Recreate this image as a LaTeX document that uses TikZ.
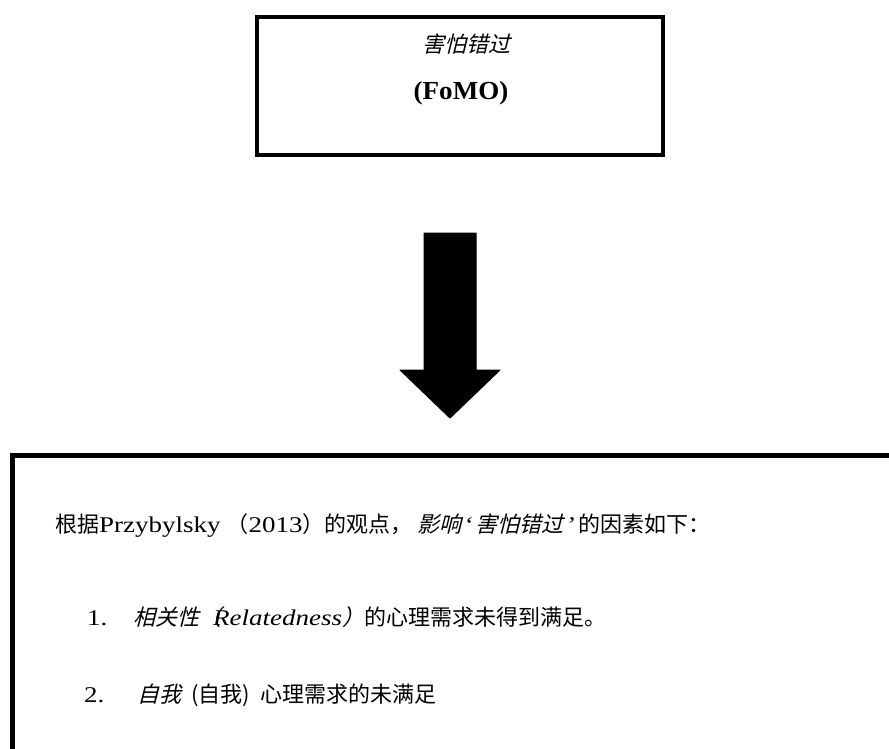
\documentclass[tikz,border=0pt]{standalone}
\usepackage{fontspec}
\setmainfont[FakeStretch=1.2]{Liberation Serif}
\newfontfamily\cjk{Noto Sans CJK SC}
\newfontfamily\cjki[FakeSlant=0.25]{Noto Sans CJK SC}
\newfontfamily\latb[FakeStretch=1.04]{Liberation Serif}
\begin{document}
\begin{tikzpicture}[x=1pt,y=-1pt,
  boxline/.style={draw=black, line width=4.5pt},
  txt/.style={inner sep=0pt, anchor=base west, font=\fontsize{22.5}{22.5}\selectfont},
  fillarrow/.style={fill=black, draw=black, line width=1pt, line join=round}]
\useasboundingbox (0,0) rectangle (889,749);
\clip (0,0) rectangle (889,749);
% top box
\node[boxline, minimum width=406pt, minimum height=138pt, inner sep=0pt] (top) at (460,86) {};
\node[inner sep=0pt] (t1) at (466,44) {\cjki\fontsize{22}{22}\selectfont 害怕错过};
\node[inner sep=0pt] (t2) at (461,93) {\latb\bfseries\fontsize{26}{26}\selectfont (FoMO)};
% block arrow
\coordinate (a1) at (424,233);
\coordinate (a2) at (476,233);
\coordinate (a3) at (476,370);
\coordinate (a4) at (500,370);
\coordinate (a5) at (450,418);
\coordinate (a6) at (400,370);
\coordinate (a7) at (424,370);
\filldraw[fillarrow] (a1) -- (a2) -- (a3) -- (a4) -- (a5) -- (a6) -- (a7) -- cycle;
% bottom box (extends beyond the picture)
\coordinate (b1) at (12,770);
\coordinate (b2) at (12,455);
\coordinate (b3) at (910,455);
\draw[boxline, line width=5pt] (b1) -- (b2) -- (b3);
% text
\node[txt] (l1) at (55,532) {{\cjk\fontsize{22}{22}\selectfont 根据}Przybylsky\hspace{6pt}{\cjk\fontsize{22}{22}\selectfont （}2013{\cjk\fontsize{22}{22}\selectfont ）的观点，}\hspace{5pt}{\cjki\fontsize{22}{22}\selectfont 影响}\hspace{2pt}\textit{‘}\hspace{3pt}{\cjki\fontsize{22}{22}\selectfont 害怕错过}\hspace{2pt}\textit{’}\hspace{4pt}{\cjk\fontsize{22}{22}\selectfont 的因素如下：}};
\node[txt] (n1) at (87,625) {1.};
\node[txt] (l2) at (133,625) {{\cjki\fontsize{22}{22}\selectfont 相关性（}\hspace{-8pt}\textit{Relatedness}{\cjki\fontsize{22}{22}\selectfont ）}{\cjk\fontsize{22}{22}\selectfont 的心理需求未得到满足。}};
\node[txt] (n2) at (84,702) {2.};
\node[txt] (l3) at (137,702) {{\cjki\fontsize{22}{22}\selectfont 自我}\hspace{10pt}{\cjk\fontsize{22}{22}\selectfont (自我)}\hspace{10pt}{\cjk\fontsize{22}{22}\selectfont 心理需求的未满足}};
\end{tikzpicture}
\end{document}
